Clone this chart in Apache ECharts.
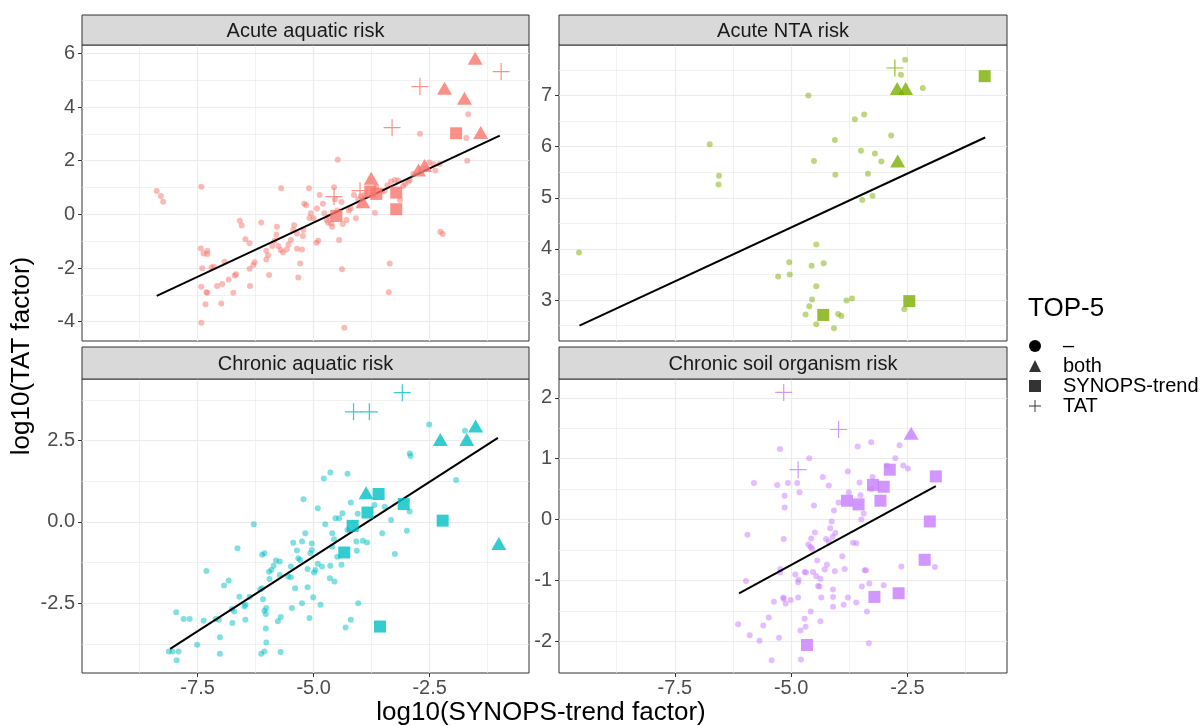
<!DOCTYPE html>
<html>
<head>
<meta charset="utf-8">
<title>TAT vs SYNOPS-trend factor</title>
<script src="https://cdn.jsdelivr.net/npm/echarts@6/dist/echarts.min.js"></script>
<style>
  html, body { margin: 0; padding: 0; background: #fff; }
  #chart { width: 1204px; height: 726px; }
</style>
</head>
<body>
<div id="chart"></div>
<script>
// facets (ggplot default hue colours)
const panelNames = ['Acute aquatic risk', 'Acute NTA risk', 'Chronic aquatic risk', 'Chronic soil organism risk'];
const panelColors = ['#F8766D', '#7CAE00', '#00BFC4', '#C77CFF'];
const shapeNames = ['–', 'both', 'SYNOPS-trend', 'TAT'];

// shared x axis
const xTicks = [-7.5, -5, -2.5];
const xMinor = [-8.75, -6.25, -3.75, -1.25];

// y ticks per facet
const aaYTicks = [-4, -2, 0, 2, 4, 6];
const aaYMinor = [-3, -1, 1, 3, 5];
const ntaYTicks = [3, 4, 5, 6, 7];
const ntaYMinor = [2.5, 3.5, 4.5, 5.5, 6.5, 7.5];
const caYTicks = [-2.5, 0, 2.5];
const caYMinor = [-3.75, -1.25, 1.25, 3.75];
const csYTicks = [-2, -1, 0, 1, 2];
const csYMinor = [-1.5, -0.5, 0.5, 1.5];

// Acute aquatic risk
const aaDots = [
  [-8.38,0.87],[-8.29,0.68],[-8.24,0.47],[-7.42,1.03],
  [-7.43,-1.27],[-7.37,-1.46],[-7.29,-1.36],[-7.29,-1.48],
  [-7.40,-2.01],[-7.20,-1.98],[-7.15,-1.95],
  [-7.42,-2.70],[-7.31,-2.90],[-7.29,-2.92],
  [-7.33,-3.35],[-6.99,-3.32],[-7.42,-4.04],
  [-7.08,-2.67],[-6.97,-2.60],[-6.83,-2.43],[-6.73,-2.92],
  [-6.92,-1.77],[-6.67,-2.23],[-6.70,-2.28],
  [-6.59,-0.24],[-6.55,-0.42],[-6.47,-0.93],[-6.38,-1.08],
  [-6.37,-2.67],[-6.38,-2.03],[-6.30,-1.89],[-6.27,-1.79],
  [-6.13,-0.30],[-6.02,-1.36],[-5.98,-1.52],[-6.02,-1.68],[-5.96,-2.26],
  [-5.89,-1.18],[-5.84,-0.98],[-5.80,-0.76],[-5.79,-0.46],
  [-5.70,0.97],[-5.76,-1.18],[-5.71,-1.33],[-5.66,-1.41],[-5.58,-1.31],[-5.54,-1.12],[-5.49,-0.96],
  [-5.44,-0.58],[-5.42,-0.41],[-5.36,-0.71],[-5.33,-2.35],[-5.29,-1.83],
  [-5.25,-1.31],[-5.36,-1.28],[-5.23,-0.81],[-5.22,-0.58],[-5.20,0.39],[-5.16,0.34],
  [-5.10,0.97],[-5.09,-0.14],[-5.06,0.04],[-5.00,-0.15],[-4.94,-1.06],[-4.90,-0.98],
  [-4.93,0.22],[-4.87,0.72],[-4.80,0.39],[-4.77,0.04],[-4.72,-0.21],[-4.69,-0.31],
  [-4.67,-0.09],[-4.62,-0.34],[-4.60,-0.46],[-4.56,1.01],[-4.54,0.56],[-4.49,0.14],
  [-4.48,2.03],[-4.45,-0.96],[-4.40,0.46],[-4.39,-2.05],[-4.37,-0.36],
  [-4.34,-4.23],[-4.29,-0.21],[-4.24,0.14],[-4.20,0.22],
  [-4.13,0.72],[-4.09,-0.15],[-4.04,0.56],[-3.98,0.68],[-3.91,0.72],
  [-3.68,0.06],[-3.65,1.03],
  [-3.53,0.85],[-3.47,0.88],[-3.41,1.08],[-3.33,1.22],[-3.25,1.28],[-3.18,1.26],[-3.14,0.53],
  [-3.36,-1.83],[-3.38,-2.90],
  [-3.07,1.06],[-3.03,1.13],[-2.96,1.22],[-2.93,1.28],
  [-2.85,1.50],[-2.71,3.00],[-2.58,1.72],[-2.51,1.93],[-2.42,1.88],[-2.38,1.63],[-2.29,1.88],
  [-2.27,-0.65],[-2.22,-0.73],
  [-1.71,2.84],[-1.69,2.00],[-1.67,3.73]
];
const aaBoth = [[-1.52,5.82],[-2.18,4.70],[-1.75,4.33],[-1.40,3.05],[-3.76,1.34],[-2.74,1.65],[-2.61,1.82],[-3.94,0.47]];
const aaSynops = [[-1.93,3.02],[-4.51,-0.06],[-3.78,0.85],[-3.65,0.76],[-3.22,0.81],[-3.22,0.19]];
const aaTat = [[-0.96,5.32],[-2.71,4.76],[-3.31,3.23],[-4.56,0.66],[-4.00,0.88]];
const aaFit = [[-8.38,-3.04],[-0.99,2.93]];

// Acute NTA risk
const ntaDots = [
  [-9.56,3.93],[-6.75,6.05],[-6.55,5.43],[-6.56,5.26],[-4.63,7.00],[-4.51,5.72],
  [-4.06,6.13],[-4.05,5.45],[-3.63,6.54],[-3.43,6.63],[-2.85,6.22],[-3.50,5.92],
  [-3.20,5.87],[-3.06,5.71],[-3.35,5.47],[-3.47,4.96],[-3.25,5.04],[-2.55,7.70],
  [-2.64,7.41],[-2.17,7.15],[-4.46,4.09],[-5.04,3.74],[-5.28,3.46],[-5.03,3.50],
  [-4.56,3.67],[-4.30,3.72],[-4.46,3.27],[-4.55,3.01],[-4.61,2.88],[-4.69,2.72],
  [-4.46,2.53],[-4.08,2.45],[-3.99,2.73],[-3.92,2.69],[-3.81,2.99],[-3.69,3.03],[-2.57,2.82]
];
const ntaBoth = [[-2.72,7.14],[-2.54,7.14],[-2.71,5.72]];
const ntaSynops = [[-0.84,7.38],[-4.31,2.71],[-2.46,2.98]];
const ntaTat = [[-2.77,7.54]];
const ntaFit = [[-9.55,2.50],[-0.83,6.18]];

// Chronic aquatic risk
const caDots = [
  [-2.51,3.00],[-1.74,2.81],[-2.93,2.11],[-2.91,2.03],[-1.93,1.29],[-4.64,1.52],
  [-4.78,1.34],[-4.27,1.48],[-5.22,0.70],[-4.91,0.42],[-4.20,0.60],[-6.29,-0.07],
  [-6.64,-0.81],[-4.75,-0.07],[-4.53,0.11],[-4.45,0.11],[-4.38,0.27],[-4.05,0.25],
  [-3.69,0.52],[-3.47,0.47],[-3.33,0.06],[-2.93,0.32],[-2.99,-0.27],[-3.52,-0.35],
  [-3.25,-0.99],[-3.94,-0.58],[-3.85,-0.63],[-4.08,-0.60],[-4.07,-0.89],[-4.27,-0.25],
  [-4.60,-0.35],[-4.56,-0.53],[-4.60,-0.76],[-4.49,-1.07],[-4.40,-1.32],[-4.64,-1.35],
  [-4.65,-1.73],[-4.55,-1.83],[-4.82,-1.37],[-4.91,-1.29],[-4.96,-1.48],[-4.99,-1.56],
  [-5.13,-1.45],[-5.04,-0.86],[-5.04,-0.66],[-5.07,-0.96],[-5.18,-0.35],[-5.25,-0.60],
  [-5.44,-0.64],[-5.36,-0.88],[-5.33,-1.12],[-5.29,-1.17],[-5.49,-1.37],[-5.55,-1.68],
  [-5.73,-1.22],[-5.81,-1.19],[-5.86,-1.35],[-5.91,-1.48],[-5.96,-1.53],[-6.06,-0.96],
  [-6.11,-1.01],[-5.73,-1.63],[-5.49,-1.70],[-5.95,-1.76],[-5.40,-2.04],[-5.13,-2.01],
  [-5.01,-2.32],[-4.85,-2.55],[-5.25,-2.50],[-5.47,-2.65],[-5.09,-2.96],[-5.71,-2.93],
  [-5.77,-3.06],[-6.02,-2.65],[-6.06,-2.73],[-6.03,-2.83],[-6.09,-2.38],[-6.11,-2.04],
  [-6.15,-2.07],[-6.03,-3.28],[-6.02,-3.71],[-6.06,-3.99],[-6.13,-4.06],[-5.71,-4.00],
  [-4.04,-2.50],[-4.20,-3.01],[-4.31,-3.25],[-6.38,-2.30],[-6.47,-2.55],[-6.49,-2.60],
  [-6.47,-3.01],[-6.60,-2.30],[-6.83,-1.80],[-6.93,-1.96],[-6.76,-2.68],[-6.71,-2.76],
  [-6.75,-3.11],[-7.04,-3.01],[-7.02,-3.55],[-7.02,-4.06],[-7.31,-1.51],[-7.37,-3.04],
  [-7.51,-3.78],[-7.80,-2.99],[-7.67,-2.99],[-7.96,-2.78],[-8.12,-3.99],[-8.04,-3.99],
  [-7.91,-3.99],[-7.95,-4.26],[-7.11,-2.99]
];
const caBoth = [[-1.51,2.95],[-2.27,2.54],[-1.70,2.54],[-1.01,-0.66],[-3.87,0.90]];
const caSynops = [[-3.60,0.86],[-3.06,0.55],[-3.84,0.29],[-4.16,-0.12],[-2.22,0.04],[-4.34,-0.94],[-3.57,-3.22]];
const caTat = [[-3.09,3.98],[-4.14,3.39],[-3.80,3.39]];
const caFit = [[-8.09,-3.91],[-1.03,2.59]];

// Chronic soil organism risk
const csDots = [
  [-5.24,1.16],[-4.61,1.01],[-5.80,0.60],[-5.30,0.57],[-5.07,0.60],[-4.87,0.60],
  [-5.14,0.39],[-4.82,0.45],[-5.14,0.20],[-4.51,0.23],[-4.32,0.70],[-4.19,0.56],
  [-3.78,0.79],[-3.57,1.20],[-3.28,1.27],[-2.67,1.22],[-2.76,1.01],[-2.59,0.89],
  [-2.49,0.84],[-2.94,0.89],[-3.53,0.61],[-3.51,0.40],[-3.25,0.70],[-3.28,0.50],
  [-3.76,0.45],[-3.98,0.28],[-4.08,0.15],[-3.44,0.10],[-3.49,0.00],[-4.13,-0.03],
  [-4.16,-0.14],[-4.05,-0.22],[-4.11,-0.28],[-4.25,-0.32],[-4.19,-0.36],[-4.49,-0.21],
  [-4.57,-0.31],[-4.63,-0.41],[-4.58,-0.45],[-4.55,-0.48],[-5.94,-0.25],[-5.16,-0.32],
  [-3.67,-0.38],[-3.60,-0.39],[-3.90,-0.60],[-4.44,-0.67],[-4.23,-0.74],[-4.06,-0.85],
  [-4.28,-0.82],[-3.85,-0.81],[-3.42,-0.83],[-3.39,-0.83],[-4.53,-0.86],[-4.71,-0.86],
  [-4.68,-0.87],[-4.46,-0.93],[-4.37,-0.97],[-4.42,-1.09],[-4.39,-1.10],[-4.84,-0.99],
  [-4.85,-1.03],[-4.91,-0.90],[-5.24,-0.87],[-5.23,-0.81],[-5.97,-1.01],[-3.48,-1.10],
  [-3.32,-1.05],[-3.01,-1.08],[-2.63,-0.77],[-1.91,-0.78],[-4.10,-1.15],[-4.10,-1.27],
  [-4.35,-1.28],[-3.78,-1.28],[-3.60,-1.36],[-3.87,-1.40],[-4.10,-1.43],[-3.37,-1.51],
  [-4.85,-1.28],[-5.01,-1.32],[-5.17,-1.28],[-5.12,-1.38],[-5.16,-1.30],[-5.37,-1.35],
  [-4.58,-1.51],[-4.71,-1.63],[-4.37,-1.67],[-4.69,-1.76],[-4.80,-1.82],[-5.48,-1.61],
  [-5.60,-1.74],[-6.14,-1.72],[-5.89,-1.90],[-5.68,-1.99],[-5.26,-1.94],[-5.42,-2.31],
  [-4.79,-2.30],[-3.33,-2.03]
];
const csBoth = [[-2.42,1.42]];
const csSynops = [[-2.88,0.82],[-1.89,0.71],[-3.24,0.57],[-3.01,0.54],[-3.80,0.31],[-3.55,0.25],[-3.08,0.31],[-2.02,-0.03],[-2.13,-0.66],[-2.69,-1.21],[-3.21,-1.27],[-4.66,-2.06]];
const csTat = [[-5.16,2.09],[-3.98,1.48],[-4.85,0.82]];
const csFit = [[-6.12,-1.21],[-1.89,0.55]];

const fontFamily = '"Liberation Sans", Arial, sans-serif';
const plusPath = 'path://M0,5H10M5,0V10';

const panels = [
  { box: { left: 82, top: 45, width: 447, height: 296 }, stripTop: 15, bottom: false,
    yMin: -4.72, yMax: 6.31, yTicks: aaYTicks, yMinor: aaYMinor, yDigits: 0,
    dots: aaDots, both: aaBoth, synops: aaSynops, tat: aaTat, fit: aaFit },
  { box: { left: 559, top: 45, width: 448, height: 296 }, stripTop: 15, bottom: false,
    yMin: 2.20, yMax: 7.99, yTicks: ntaYTicks, yMinor: ntaYMinor, yDigits: 0,
    dots: ntaDots, both: ntaBoth, synops: ntaSynops, tat: ntaTat, fit: ntaFit },
  { box: { left: 82, top: 379, width: 447, height: 294 }, stripTop: 347, bottom: true,
    yMin: -4.65, yMax: 4.40, yTicks: caYTicks, yMinor: caYMinor, yDigits: 1,
    dots: caDots, both: caBoth, synops: caSynops, tat: caTat, fit: caFit },
  { box: { left: 559, top: 379, width: 448, height: 294 }, stripTop: 347, bottom: true,
    yMin: -2.52, yMax: 2.31, yTicks: csYTicks, yMinor: csYMinor, yDigits: 0,
    dots: csDots, both: csBoth, synops: csSynops, tat: csTat, fit: csFit }
];
const xMin = -9.99, xMax = -0.36;

const grid = [], xAxis = [], yAxis = [], series = [], graphic = [];

panels.forEach((p, g) => {
  const col = panelColors[g];
  grid.push({
    left: p.box.left, top: p.box.top, width: p.box.width, height: p.box.height,
    show: true, borderColor: '#333333', borderWidth: 1, backgroundColor: '#fff',
    containLabel: false, outerBoundsMode: 'none'
  });
  // major x
  xAxis.push({
    type: 'value', gridIndex: g, min: xMin, max: xMax, position: 'bottom',
    axisLine: { show: false, onZero: false },
    axisTick: { show: p.bottom, length: 4, lineStyle: { color: '#333' }, customValues: xTicks },
    axisLabel: { show: p.bottom, customValues: xTicks, margin: 5, fontSize: 20, color: '#4d4d4d',
      fontFamily: fontFamily, formatter: v => Number(v).toFixed(1) },
    splitLine: { show: true, lineStyle: { color: '#ebebeb', width: 1.2 } }
  });
  // minor x
  xAxis.push({
    type: 'value', gridIndex: g, min: xMin, max: xMax, position: 'top',
    axisLine: { show: false, onZero: false },
    axisTick: { show: false, customValues: xMinor },
    axisLabel: { show: false, customValues: xMinor },
    splitLine: { show: true, lineStyle: { color: '#ebebeb', width: 0.7 } }
  });
  // major y
  yAxis.push({
    type: 'value', gridIndex: g, min: p.yMin, max: p.yMax, position: 'left',
    axisLine: { show: false, onZero: false },
    axisTick: { show: true, length: 4, lineStyle: { color: '#333' }, customValues: p.yTicks },
    axisLabel: { show: true, customValues: p.yTicks, margin: 7, fontSize: 20, color: '#4d4d4d',
      fontFamily: fontFamily, formatter: v => Number(v).toFixed(p.yDigits) },
    splitLine: { show: true, lineStyle: { color: '#ebebeb', width: 1.2 } }
  });
  // minor y
  yAxis.push({
    type: 'value', gridIndex: g, min: p.yMin, max: p.yMax, position: 'right',
    axisLine: { show: false, onZero: false },
    axisTick: { show: false, customValues: p.yMinor },
    axisLabel: { show: false, customValues: p.yMinor },
    splitLine: { show: true, lineStyle: { color: '#ebebeb', width: 0.7 } }
  });

  const xi = 2 * g, yi = 2 * g;
  series.push({
    name: shapeNames[0], type: 'scatter', xAxisIndex: xi, yAxisIndex: yi, z: 2,
    symbol: 'circle', symbolSize: 6, data: p.dots,
    itemStyle: { color: col, opacity: 0.5 }
  });
  series.push({
    name: 'fit', type: 'line', xAxisIndex: xi, yAxisIndex: yi, z: 3,
    symbol: 'none', data: p.fit, lineStyle: { color: '#000', width: 2 }
  });
  series.push({
    name: shapeNames[1], type: 'scatter', xAxisIndex: xi, yAxisIndex: yi, z: 4,
    symbol: 'triangle', symbolSize: [15, 13], data: p.both,
    itemStyle: { color: col }
  });
  series.push({
    name: shapeNames[2], type: 'scatter', xAxisIndex: xi, yAxisIndex: yi, z: 4,
    symbol: 'rect', symbolSize: 12, data: p.synops,
    itemStyle: { color: col }
  });
  series.push({
    name: shapeNames[3], type: 'scatter', xAxisIndex: xi, yAxisIndex: yi, z: 4,
    symbol: plusPath, symbolSize: 17, data: p.tat,
    itemStyle: { color: 'rgba(0,0,0,0)', borderColor: col, borderWidth: 1.2 }
  });

  // facet strip
  graphic.push({
    type: 'rect', z: 10,
    shape: { x: p.box.left, y: p.stripTop, width: p.box.width, height: p.box.top - p.stripTop },
    style: { fill: '#d9d9d9', stroke: '#333333', lineWidth: 1 }
  });
  graphic.push({
    type: 'text', z: 11,
    x: p.box.left + p.box.width / 2, y: (p.stripTop + p.box.top) / 2 + 1,
    style: { text: panelNames[g], fill: '#1a1a1a', font: '20px ' + fontFamily, align: 'center', verticalAlign: 'middle' }
  });
});

// axis titles
graphic.push({
  type: 'text', z: 11, x: 541, y: 713,
  style: { text: 'log10(SYNOPS-trend factor)', fill: '#000', font: '26px ' + fontFamily, align: 'center', verticalAlign: 'middle' }
});
graphic.push({
  type: 'text', z: 11, x: 22, y: 356, rotation: Math.PI / 2,
  style: { text: 'log10(TAT factor)', fill: '#000', font: '26px ' + fontFamily, align: 'center', verticalAlign: 'middle' }
});

const option = {
  animation: false,
  backgroundColor: '#fff',
  title: {
    text: 'TOP-5', left: 1028, top: 296, padding: 0,
    textStyle: { fontSize: 26, fontWeight: 'normal', color: '#000', fontFamily: fontFamily }
  },
  legend: {
    orient: 'vertical', left: 1029, top: 336, padding: 0,
    itemWidth: 12, itemHeight: 12, itemGap: 0, selectedMode: false,
    textStyle: { fontSize: 20, color: '#000', fontFamily: fontFamily, padding: [0, 0, 0, 17] },
    data: [
      { name: shapeNames[0], icon: 'path://M5,0A5,5 0 1,1 4.99,0z', itemStyle: { color: '#000', opacity: 1 } },
      { name: shapeNames[1], icon: 'triangle', itemStyle: { color: '#000' } },
      { name: shapeNames[2], icon: 'rect', itemStyle: { color: '#000' } },
      { name: shapeNames[3], icon: 'path://M0,4.6h10v0.8h-10z M4.6,0h0.8v10h-0.8z',
        itemStyle: { color: '#000', borderWidth: 0 } }
    ]
  },
  grid: grid,
  xAxis: xAxis,
  yAxis: yAxis,
  series: series,
  graphic: graphic
};

const chart = echarts.init(document.getElementById('chart'));
chart.setOption(option);
</script>
</body>
</html>
